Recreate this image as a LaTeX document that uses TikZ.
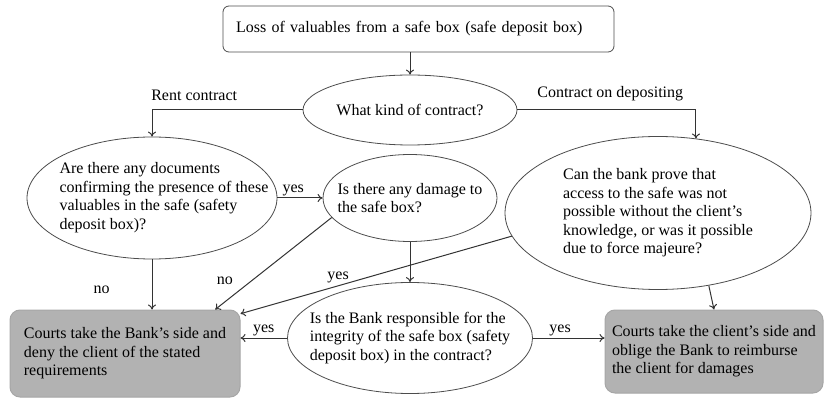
\documentclass[tikz,border=0pt]{standalone}
\usepackage{fontspec}
\setmainfont{Liberation Serif}
\usetikzlibrary{arrows.meta,positioning,calc}
\usetikzlibrary{shapes.geometric}

\begin{document}
\begin{tikzpicture}[
    x=1pt, y=-1pt,
    % Base styles for the flow chart
    every node/.style={font=\fontsize{16}{18.5}\selectfont},
    start/.style={draw=black!70, line width=0.8pt, rectangle, rounded corners=6pt,
        minimum width=391pt, minimum height=46pt, text width=365pt, align=left},
    question/.style={draw=black!70, line width=0.8pt, ellipse, align=left,
        inner sep=-60pt}, % size comes from minimum width/height
    verdict/.style={draw=black!35, fill=black!30, line width=1pt, rectangle,
        rounded corners=10pt, align=left},
    flow/.style={draw=black!80, line width=1pt, -{To[length=5pt,width=8pt]}},
    tag/.style={inner sep=2pt}
]

% white margin of the reference
\useasboundingbox (0,0) rectangle (825,398);

% ==================== QUESTIONS ====================
\node[start] (loss) at (418.5,29) {Loss of valuables from a safe box (safe deposit box)};
\node[question, minimum width=214pt, minimum height=70pt] (kind) at (410,110)
    {What kind of contract?};
\node[question, minimum width=250pt, minimum height=122pt] (docs) at (152,198)
    {\hspace{24pt}\begin{tabular}{@{}l@{}}Are there any documents\\confirming the presence of these\\valuables in the safe (safety\\deposit box)?\end{tabular}};
\node[question, minimum width=174pt, minimum height=87pt] (damage) at (410,198)
    {Is there any damage to\\the safe box?};
\node[question, minimum width=306pt, minimum height=153pt] (prove) at (658,213)
    {Can the bank prove that\\access to the safe was not\\possible without the client's\\knowledge, or was it possible\\due to force majeure?};
\node[question, minimum width=245pt, minimum height=111pt] (resp) at (410,338)
    {Is the Bank responsible for the\\integrity of the safe box (safety\\deposit box) in the contract?};

% ==================== VERDICTS ====================
\node[verdict, minimum width=230pt, minimum height=87pt] (bankside) at (125,353.5)
    {Courts take the Bank's side and\\deny the client of the stated\\requirements};
\node[verdict, minimum width=218pt, minimum height=83pt] (clientside) at (714,351.5)
    {Courts take the client's side and\\oblige the Bank to reimburse\\the client for damages};

% ==================== CONNECTIONS ====================
\draw[flow] (loss.south -| kind.north) -- (kind.north);
\draw[flow] (kind.west) -| node[tag, above=7pt, pos=0.36] {Rent contract} (docs.north);
\draw[flow] (kind.east) -| node[tag, above=7pt, pos=0.26] {Contract on depositing} (prove.63);

\draw[flow] (docs.south) -- node[tag, left=40pt, pos=0.6] {no} (docs.south |- bankside.north);
\draw[flow] (docs.east) -- node[tag, above, pos=0.35] {yes} (damage.west);
\draw[flow] (damage.194) -- node[tag, left=16pt, pos=0.69] {no} (bankside.26);
\draw[flow] (prove.189) -- node[tag, above, pos=0.64] {yes} (bankside.19);
\draw[flow] (damage.south) -- (resp.north);
\draw[flow] (prove.305) -- (clientside.north);

\draw[flow] (resp.west) -- node[tag, above] {yes} (resp.west -| bankside.east);
\draw[flow] (resp.east) -- node[tag, above, pos=0.38] {yes} (resp.east -| clientside.west);

\end{tikzpicture}
\end{document}
